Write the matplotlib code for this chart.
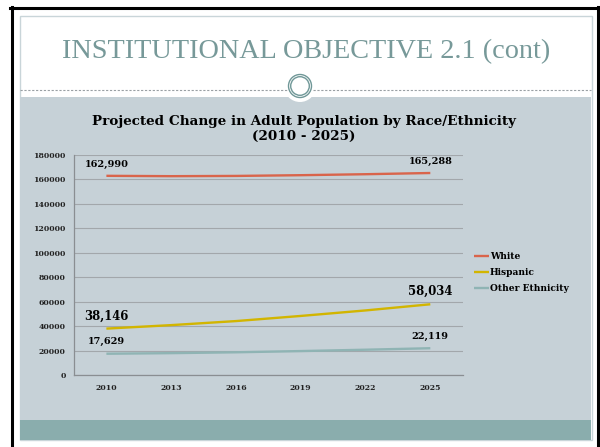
import matplotlib
matplotlib.use("Agg")
import matplotlib.pyplot as plt
from matplotlib.patches import Rectangle, Circle
from matplotlib.lines import Line2D
from matplotlib.transforms import IdentityTransform

# data
years = ["2010", "2013", "2016", "2019", "2022", "2025"]
white = [162990, 162700, 162900, 163500, 164300, 165288]
hispanic = [38146, 41000, 44300, 48500, 53000, 58034]
other = [17629, 18100, 18800, 19800, 20900, 22119]
series_names = ["White", "Hispanic", "Other Ethnicity"]
yticks = list(range(0, 180001, 20000))

W, H = 600, 447
fig = plt.figure(figsize=(6, 4.47), dpi=100)
fig.patch.set_facecolor("white")


def px(x, y):
    # pixel (top-left origin) -> figure fraction
    return x / W, 1 - y / H


def rect(x0, y0, x1, y1, **kw):
    fx, fy = px(x0, y1)
    fig.add_artist(Rectangle((fx, fy), (x1 - x0) / W, (y1 - y0) / H,
                             transform=fig.transFigure, **kw))


def hline(x0, x1, y, **kw):
    a, b = px(x0, y)
    c, _ = px(x1, y)
    fig.add_artist(Line2D([a, c], [b, b], transform=fig.transFigure, **kw))


def vline(x, y0, y1, **kw):
    a, b = px(x, y0)
    _, d = px(x, y1)
    fig.add_artist(Line2D([a, a], [b, d], transform=fig.transFigure, **kw))


# slide frame
hline(10, 600, 7.5, color="black", lw=2.2)
vline(11.5, 7, 447, color="black", lw=2.2)
vline(598, 7, 447, color="black", lw=2.2)
rect(19.5, 15.5, 591.5, 440, facecolor="white", edgecolor="#c9d5d9", lw=1)
rect(20, 97, 591, 420, facecolor="#c6d1d7", edgecolor="none")
rect(20, 420, 591, 440, facecolor="#8aadad", edgecolor="none")
hline(20, 287, 89.5, color="#9aa0a4", lw=0.8, ls=(0, (2, 1.5)))
hline(313, 591, 89.5, color="#9aa0a4", lw=0.8, ls=(0, (2, 1.5)))

# circle ornament (display pixels, bottom-left origin)
ccx, ccy = 300, H - 86
fig.add_artist(Circle((ccx, ccy), 16, transform=IdentityTransform(),
                      facecolor="white", edgecolor="none"))
for r in [11.5, 9.3]:
    fig.add_artist(Circle((ccx, ccy), r, transform=IdentityTransform(),
                          facecolor="none", edgecolor="#6f9797", lw=1.0))

tx, ty = px(306, 52)
fig.text(tx, ty, "INSTITUTIONAL OBJECTIVE 2.1 (cont)", ha="center", va="center",
         fontsize=20.3, color="#779999", family="Liberation Serif")

t1x, t1y = px(304, 129)
fig.text(t1x, t1y, "Projected Change in Adult Population by Race/Ethnicity\n(2010 - 2025)",
         ha="center", va="center", fontsize=9.7, fontweight="bold",
         family="DejaVu Serif", linespacing=1.2, color="black")

# plot area
left, top, right, bottom = 74, 155, 462.7, 375.3
ax = fig.add_axes([left / W, 1 - bottom / H, (right - left) / W, (bottom - top) / H])
ax.set_facecolor("none")
ax.set_zorder(10)

x = list(range(len(years)))
colors = ["#d9644b", "#d2b500", "#8fb4b4"]
for vals, name, c in zip([white, hispanic, other], series_names, colors):
    ax.plot(x, vals, color=c, lw=1.7, label=name, solid_capstyle="butt")

ax.set_xlim(-0.5, len(years) - 0.5)
ax.set_ylim(0, 180000)
ax.set_yticks(yticks)
ax.set_yticklabels([str(v) for v in yticks])
ax.set_xticks(x)
ax.set_xticklabels(years)
ax.tick_params(length=0, labelsize=5.6, colors="#222222", pad=6)
for lab in ax.get_xticklabels() + ax.get_yticklabels():
    lab.set_family("DejaVu Serif")
    lab.set_fontweight("bold")
ax.grid(axis="y", color="#a2a7ab", lw=0.8)
ax.set_axisbelow(True)
for s in ["top", "right"]:
    ax.spines[s].set_visible(False)
for s in ["left", "bottom"]:
    ax.spines[s].set_color("#8a8e92")
    ax.spines[s].set_linewidth(0.9)

# end-point labels
labels = [
    (0, white[0], 8.5, 7.0), (5, white[-1], 8.5, 7.0),
    (0, hispanic[0], 9, 8.4), (5, hispanic[-1], 9, 8.4),
    (0, other[0], 8.5, 7.0), (5, other[-1], 8.5, 7.0),
]
for xi, v, off, fs in labels:
    ax.annotate(f"{v:,}", (xi, v), xytext=(0, off), textcoords="offset points",
                ha="center", va="center", fontsize=fs, fontweight="bold",
                family="DejaVu Serif", color="black")

leg = ax.legend(loc="upper left", bbox_to_anchor=(1.02, 0.575), frameon=False,
                prop={"family": "DejaVu Serif", "weight": "bold", "size": 6.6},
                handlelength=1.6, handletextpad=0.1, labelspacing=0.75,
                borderaxespad=0)

fig.savefig("out.png", dpi=100)
